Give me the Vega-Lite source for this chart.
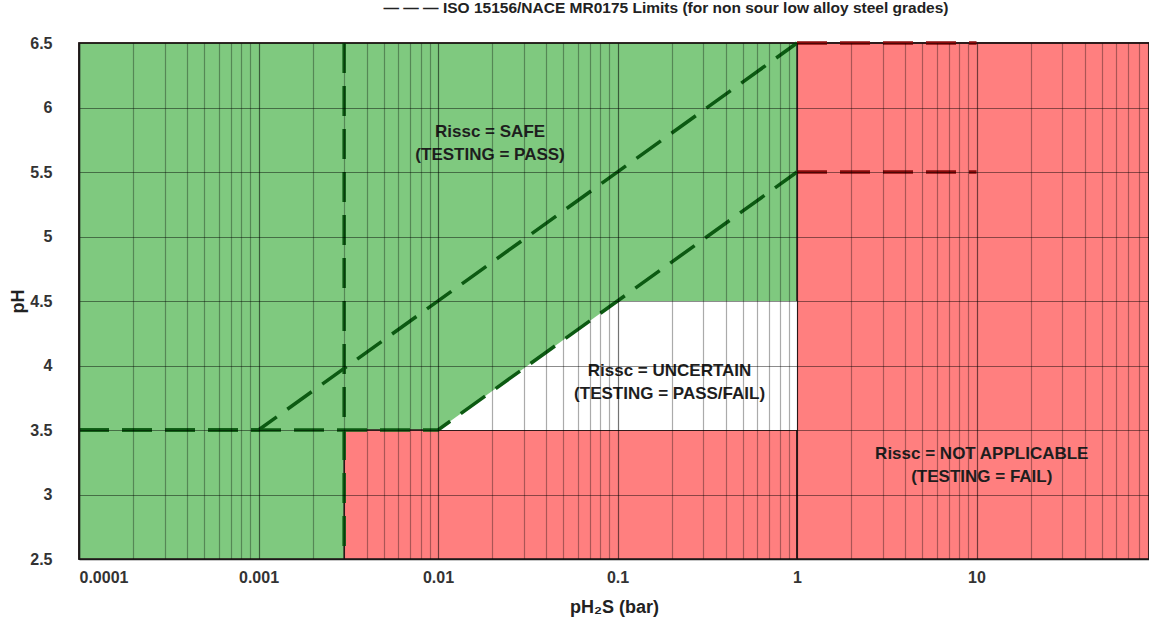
{
  "$schema": "https://vega.github.io/schema/vega-lite/v6.json",
  "width": 1070,
  "height": 516,
  "autosize": {"type": "none"},
  "padding": {"left": 79, "top": 43, "right": 0, "bottom": 70},
  "background": "white",
  "config": {
    "font": "Liberation Sans",
    "view": {"stroke": "#1a1a1a", "strokeWidth": 1.5}
  },
  "title": {
    "text": "— — —  ISO 15156/NACE MR0175 Limits (for non sour low alloy steel grades)",
    "font": "Liberation Sans",
    "fontSize": 15.5,
    "fontWeight": "bold",
    "color": "#222",
    "anchor": "middle",
    "dx": 52,
    "offset": 19
  },
  "datasets": {
    "regions": [
      {"x": 0.0001, "x2": 91.4, "y": 2.5, "y2": 6.5, "zone": "safe"},
      {"x": 0.003, "x2": 1, "y": 2.5, "y2": 3.5, "zone": "not applicable"},
      {"x": 1, "x2": 91.4, "y": 2.5, "y2": 6.5, "zone": "not applicable"}
    ],
    "uncertain": [
      {"x": 0.01, "y": 3.5, "y2": 3.5},
      {"x": 0.1, "y": 4.5, "y2": 3.5},
      {"x": 1, "y": 4.5, "y2": 3.5}
    ],
    "limits": [
      {"line": "upper", "zone": "safe", "x": 0.0001, "y": 3.5},
      {"line": "upper", "zone": "safe", "x": 0.001, "y": 3.5},
      {"line": "upper", "zone": "safe", "x": 1, "y": 6.5},
      {"line": "upper ext", "zone": "not applicable", "x": 1, "y": 6.5},
      {"line": "upper ext", "zone": "not applicable", "x": 10, "y": 6.5},
      {"line": "lower", "zone": "safe", "x": 0.0001, "y": 3.5},
      {"line": "lower", "zone": "safe", "x": 0.01, "y": 3.5},
      {"line": "lower", "zone": "safe", "x": 1, "y": 5.5},
      {"line": "lower ext", "zone": "not applicable", "x": 1, "y": 5.5},
      {"line": "lower ext", "zone": "not applicable", "x": 10, "y": 5.5},
      {"line": "pH2S limit", "zone": "safe", "x": 0.003, "y": 6.5},
      {"line": "pH2S limit", "zone": "safe", "x": 0.003, "y": 2.5}
    ],
    "labels": [
      {"x": 0.0195, "y": 5.81, "text": "Rissc = SAFE\n(TESTING = PASS)"},
      {"x": 0.195, "y": 3.955, "text": "Rissc = UNCERTAIN\n(TESTING = PASS/FAIL)"},
      {"x": 10.7, "y": 3.315, "text": "Rissc = NOT APPLICABLE\n(TESTING = FAIL)"}
    ]
  },
  "encoding": {
    "x": {
      "field": "x",
      "type": "quantitative",
      "scale": {"type": "log", "domain": [0.0001, 91.4], "nice": false},
      "axis": {
        "title": "pH₂S (bar)",
        "titleFont": "Liberation Sans",
        "titleFontSize": 18,
        "titleFontWeight": "bold",
        "titleColor": "#222",
        "titleBaseline": "middle",
        "titleY": 48,
        "values": [0.0001, 0.0002, 0.0003, 0.0004, 0.0005, 0.0006, 0.0007, 0.0008, 0.0009,
                   0.001, 0.002, 0.003, 0.004, 0.005, 0.006, 0.007, 0.008, 0.009,
                   0.01, 0.02, 0.03, 0.04, 0.05, 0.06, 0.07, 0.08, 0.09,
                   0.1, 0.2, 0.3, 0.4, 0.5, 0.6, 0.7, 0.8, 0.9,
                   1, 2, 3, 4, 5, 6, 7, 8, 9,
                   10, 20, 30, 40, 50, 60, 70, 80, 90],
        "format": "~g",
        "labelExpr": "indexof(['0.0001','0.001','0.01','0.1','1','10'], datum.label) >= 0 ? datum.label : ''",
        "labelOverlap": false,
        "labelFont": "Liberation Sans",
        "labelFontSize": 16,
        "labelFontWeight": "bold",
        "labelColor": "#333",
        "labelPadding": 10,
        "ticks": false,
        "domainColor": "#1a1a1a",
        "domainWidth": 1.5,
        "grid": true,
        "gridColor": "#000",
        "gridOpacity": {"condition": {"test": "abs(log(datum.value)/LN10 - round(log(datum.value)/LN10)) < 0.001", "value": 0.55}, "value": 0.33},
        "gridWidth": 1.2,
        "zindex": 1
      }
    },
    "y": {
      "field": "y",
      "type": "quantitative",
      "scale": {"domain": [2.5, 6.5], "nice": false, "zero": false},
      "axis": {
        "title": "pH",
        "titleFont": "Liberation Sans",
        "titleFontSize": 18,
        "titleFontWeight": "bold",
        "titleColor": "#222",
        "titleAngle": -90,
        "titleAlign": "center",
        "titleBaseline": "middle",
        "titleX": -61,
        "titleY": 258,
        "values": [2.5, 3, 3.5, 4, 4.5, 5, 5.5, 6, 6.5],
        "format": "~g",
        "labelFont": "Liberation Sans",
        "labelFontSize": 16,
        "labelFontWeight": "bold",
        "labelColor": "#333",
        "labelPadding": 27,
        "ticks": false,
        "domainColor": "#1a1a1a",
        "domainWidth": 1.5,
        "grid": true,
        "gridColor": "#000",
        "gridOpacity": 0.45,
        "gridWidth": 1.2,
        "zindex": 1
      }
    }
  },
  "layer": [
    {
      "data": {"name": "regions"},
      "mark": {"type": "rect", "stroke": "#2a1a1a", "strokeWidth": 1.5},
      "encoding": {
        "x2": {"field": "x2"},
        "y2": {"field": "y2"},
        "fill": {
          "field": "zone",
          "type": "nominal",
          "scale": {"domain": ["safe", "not applicable"], "range": ["#7fc97f", "#ff7f7f"]},
          "legend": null
        }
      }
    },
    {
      "data": {"name": "uncertain"},
      "mark": {"type": "area", "color": "#ffffff", "opacity": 1},
      "encoding": {
        "y2": {"field": "y2"}
      }
    },
    {
      "data": {"name": "limits"},
      "mark": {"type": "line", "strokeWidth": 3.5, "strokeDash": [30, 13]},
      "encoding": {
        "detail": {"field": "line", "type": "nominal"},
        "stroke": {
          "field": "zone",
          "type": "nominal",
          "scale": {"domain": ["safe", "not applicable"], "range": ["#0c5a12", "#8a0c0c"]},
          "legend": null
        }
      }
    },
    {
      "data": {"name": "labels"},
      "mark": {
        "type": "text",
        "font": "Liberation Sans",
        "fontSize": 17,
        "fontWeight": "bold",
        "color": "#1e1e1e",
        "align": "center",
        "baseline": "middle",
        "lineBreak": "\n",
        "lineHeight": 23
      },
      "encoding": {
        "text": {"field": "text", "type": "nominal"}
      }
    }
  ]
}
